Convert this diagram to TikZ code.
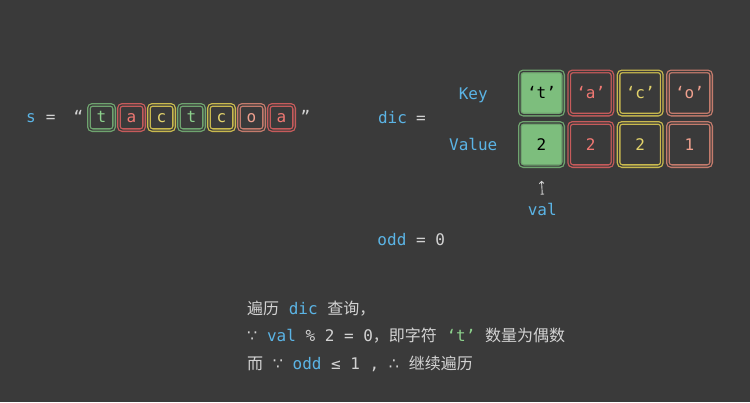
\documentclass[tikz,border=0pt]{standalone}
\usepackage{fontspec}
\setmonofont{DejaVu Sans Mono}
\newfontfamily\cjk{Noto Sans CJK SC}
\newfontfamily\symf{DejaVu Sans}
\usetikzlibrary{arrows.meta}

\definecolor{bg}{HTML}{3A3A3A}
\definecolor{fg}{HTML}{D2D2D2}
\definecolor{kw}{HTML}{5BB4E5}
\definecolor{gline}{HTML}{6FA46F}
\definecolor{gfill}{HTML}{7DBE7D}
\definecolor{gtext}{HTML}{8CD08C}
\definecolor{rline}{HTML}{C65B5B}
\definecolor{rtext}{HTML}{F07873}
\definecolor{yline}{HTML}{C9B94E}
\definecolor{ytext}{HTML}{E3D36B}
\definecolor{oline}{HTML}{C47B6C}
\definecolor{otext}{HTML}{EFA08E}

\tikzset{
  every node/.style={font=\ttfamily\fontsize{16}{19}\selectfont, text=fg},
  lbl/.style={anchor=base, inner sep=0pt},
  lblw/.style={anchor=base west, inner sep=0pt},
  cellbase/.style={draw=#1, double=bg, double distance=1.2pt, line width=1.3pt,
    rounded corners=3.5pt, inner sep=0pt, text depth=0pt},
  strcell/.style={cellbase=#1, minimum width=25.2pt, minimum height=25.2pt, text height=9pt},
  dictcell/.style={cellbase=#1, minimum width=43.2pt, minimum height=43.2pt, text height=11.6pt},
}

\begin{document}
\begin{tikzpicture}[x=1pt, y=-1pt]
  \fill[bg] (0,0) rectangle (750,402);
  \useasboundingbox (0,0) rectangle (750,402);

  % the string s
  \node[lbl, text=kw] (s) at (31,122.5) {s};
  \node[lbl] (seq) at (50.8,122.5) {=};
  \node[lbl] (lq) at (78.5,122.5) {“};
  \node[strcell=gline, text=gtext] (c1) at (101.5,117.5) {t};
  \node[strcell=rline, text=rtext] (c2) at (131.5,117.5) {a};
  \node[strcell=yline, text=ytext] (c3) at (161.5,117.5) {c};
  \node[strcell=gline, text=gtext] (c4) at (191.5,117.5) {t};
  \node[strcell=yline, text=ytext] (c5) at (221.5,117.5) {c};
  \node[strcell=oline, text=otext] (c6) at (251.5,117.5) {o};
  \node[strcell=rline, text=rtext] (c7) at (281.5,117.5) {a};
  \node[lbl] (rq) at (305.5,122.5) {”};

  % the dictionary
  \node[lbl, text=kw] (dic) at (392.5,123) {dic};
  \node[lbl] (deq) at (421,123) {=};
  \node[lbl, text=kw] (key) at (473.3,99) {Key};
  \node[lbl, text=kw] (value) at (473.3,150.3) {Value};

  \node[dictcell=gline, fill=gfill, text=black] (k1) at (541.5,93) {‘t’};
  \node[dictcell=rline, text=rtext] (k2) at (590.8,93) {‘a’};
  \node[dictcell=yline, text=ytext] (k3) at (640.2,93) {‘c’};
  \node[dictcell=oline, text=otext] (k4) at (689.5,93) {‘o’};
  \node[dictcell=gline, fill=gfill, text=black] (v1) at (541.5,144.5) {2};
  \node[dictcell=rline, text=rtext] (v2) at (590.8,144.5) {2};
  \node[dictcell=yline, text=ytext] (v3) at (640.2,144.5) {2};
  \node[dictcell=oline, text=otext] (v4) at (689.5,144.5) {1};

  % pointer to the current entry
  \node[lbl, text=kw] (val) at (542.3,215) {val};
  \draw[fg, line width=0.9pt, {Bar[width=3.5pt]}-{Straight Barb[length=2.2pt,width=4.5pt]}]
    ([yshift=8pt]val.north) -- ([yshift=-14pt]v1.south);

  \node[lbl] (odd) at (411.2,245) {{\color{kw}odd} = 0};

  % explanation
  \node[lblw] (l1) at (247,314) {{\cjk 遍历} {\color{kw}dic} {\cjk 查询，}};
  \node[lblw] (l2) at (247,341) {{\symf ∵} {\color{kw}val} \% 2 = 0{\cjk ，即字符} {\color{gtext}‘t’} {\cjk 数量为偶数}};
  \node[lblw] (l3) at (247,369) {{\cjk 而} {\symf ∵} {\color{kw}odd} ≤ 1 , {\symf ∴} {\cjk 继续遍历}};
\end{tikzpicture}
\end{document}
